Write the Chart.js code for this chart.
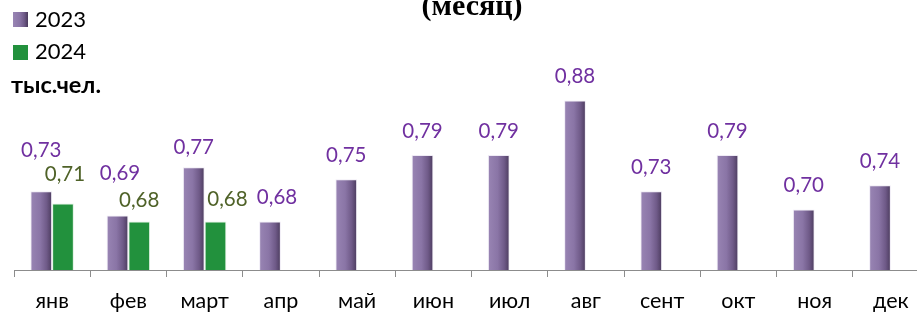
<!DOCTYPE html>
<html>
<head>
<meta charset="utf-8">
<script src="https://cdn.jsdelivr.net/npm/chart.js@4"></script>
<style>
  html, body { margin: 0; padding: 0; background: #fff; overflow: hidden; }
  #wrap { width: 929px; height: 314px; }
</style>
</head>
<body>
<div id="wrap"><canvas id="monthChart" width="929" height="314"></canvas></div>
<script>
// Chart data
const months = ['янв', 'фев', 'март', 'апр', 'май', 'июн', 'июл', 'авг', 'сент', 'окт', 'ноя', 'дек'];
const values2023 = [0.73, 0.69, 0.77, 0.68, 0.75, 0.79, 0.79, 0.88, 0.73, 0.79, 0.70, 0.74];
const values2024 = [0.71, 0.68, 0.68, null, null, null, null, null, null, null, null, null];
const seriesNames = ['2023', '2024'];
const unitLabel = 'тыс.чел.';
const titleText = '(месяц)';

// label nudges [dx, dy] (the original has a few hand-moved labels)
const nudge2023 = [[0, -17], [2.5, -18.5], [0, 4], [7, 0], [0, 0], [0, 0], [0, 0], [0, 0], [0, 0], [0, 0], [0, 0], [0, 0]];
const nudge2024 = [[2, -5], [0, 3], [12, 2]];

const CAT_PCT = 0.57;
const FONT = 'Lato, "Open Sans", sans-serif';
const purpleLabel = '#7030a0';
const greenLabel = '#4f6228';
const green = '#22913d';

function purpleGradient(c, left, width) {
    const g = c.createLinearGradient(left, 0, left + width, 0);
    g.addColorStop(0, '#9985b4');
    g.addColorStop(0.45, '#8a75a6');
    g.addColorStop(0.75, '#6f5a88');
    g.addColorStop(1, '#4a3a5c');
    return g;
}

function purpleFill(ctx) {
    const chart = ctx.chart;
    if (!chart.chartArea || ctx.type !== 'data') return '#8a75a6';
    const xs = chart.scales.x;
    const cw = xs.width / months.length;
    const barW = cw * CAT_PCT / 2;
    const left = xs.getPixelForValue(ctx.dataIndex) - cw * CAT_PCT / 2;
    return purpleGradient(chart.ctx, left, barW);
}

// bottom shading on purple bars + value labels
const labelPlugin = {
    id: 'labels',
    afterDatasetsDraw(chart) {
        const c = chart.ctx;
        const meta0 = chart.getDatasetMeta(0);
        const meta1 = chart.getDatasetMeta(1);
        c.save();
        meta0.data.forEach(bar => {
            const left = bar.x - bar.width / 2;
            const g = c.createLinearGradient(0, bar.base - 14, 0, bar.base);
            g.addColorStop(0, 'rgba(40,20,60,0)');
            g.addColorStop(1, 'rgba(40,20,60,0.35)');
            c.fillStyle = g;
            c.fillRect(left, bar.base - 14, bar.width, 14);
        });

        c.font = '20.5px ' + FONT;
        c.textAlign = 'center';
        c.textBaseline = 'middle';
        c.fillStyle = purpleLabel;
        meta0.data.forEach((bar, i) => {
            const v = values2023[i];
            if (v == null) return;
            const n = nudge2023[i] || [0, 0];
            c.fillText(v.toFixed(2).replace('.', ','), bar.x + n[0], bar.y - 24 + n[1]);
        });
        c.fillStyle = greenLabel;
        meta1.data.forEach((bar, i) => {
            const v = values2024[i];
            if (v == null) return;
            const n = nudge2024[i] || [0, 0];
            c.fillText(v.toFixed(2).replace('.', ','), bar.x + n[0], bar.y - 24 + n[1]);
        });
        c.restore();
    }
};

// legend, unit caption and the (cut off) title
const textPlugin = {
    id: 'texts',
    afterDraw(chart) {
        const c = chart.ctx;
        c.save();
        c.textBaseline = 'middle';
        c.textAlign = 'left';
        c.font = '22px ' + FONT;
        c.fillStyle = purpleGradient(c, 13, 15);
        c.fillRect(13, 12, 15, 15);
        c.fillStyle = green;
        c.fillRect(13, 45, 15, 15);
        c.fillStyle = '#000';
        c.fillText(chart.data.datasets[0].label, 35, 20);
        c.fillText(chart.data.datasets[1].label, 35, 52);

        c.font = 'bold 23.5px ' + FONT;
        c.fillText(unitLabel, 11, 85);

        c.font = 'bold 30px "Liberation Serif", "Times New Roman", serif';
        c.textAlign = 'center';
        c.textBaseline = 'alphabetic';
        c.fillText(titleText, 472, 15);
        c.restore();
    }
};

new Chart(document.getElementById('monthChart'), {
    type: 'bar',
    data: {
        labels: months,
        datasets: [
            {
                label: seriesNames[0],
                data: values2023,
                backgroundColor: purpleFill,
                borderColor: 'rgba(235,230,242,0.8)',
                borderWidth: 1
            },
            {
                label: seriesNames[1],
                data: values2024,
                backgroundColor: green,
                borderColor: 'rgba(220,240,222,0.9)',
                borderWidth: 1
            }
        ]
    },
    options: {
        responsive: false,
        animation: false,
        events: [],
        categoryPercentage: CAT_PCT,
        barPercentage: 1,
        layout: { padding: { left: 14, right: 0, top: 88.5, bottom: 0 } },
        plugins: {
            legend: { display: false },
            tooltip: { enabled: false },
            title: { display: false }
        },
        scales: {
            x: {
                grid: {
                    drawOnChartArea: false,
                    drawTicks: true,
                    tickLength: 7,
                    color: '#8c8c8c'
                },
                border: { display: true, color: '#8c8c8c', width: 1 },
                ticks: {
                    color: '#000',
                    padding: 11,
                    font: { family: FONT, size: 21.5 }
                },
                afterFit(scale) { scale.height = 44; }
            },
            y: {
                display: false,
                min: 0.6,
                max: 0.9
            }
        }
    },
    plugins: [labelPlugin, textPlugin]
});
</script>
</body>
</html>
